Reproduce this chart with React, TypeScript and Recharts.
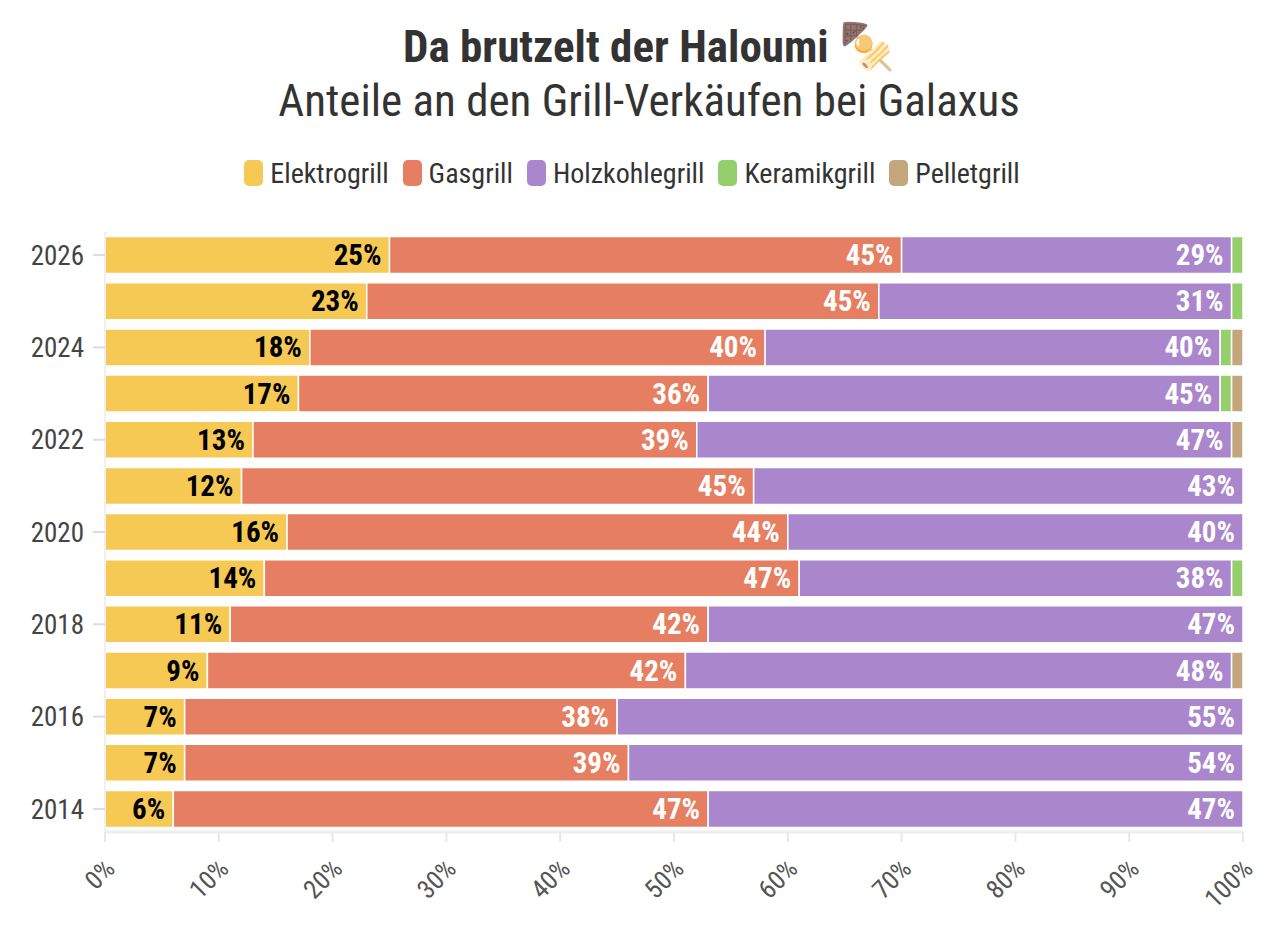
import React from "react";
import { BarChart, Bar, XAxis, YAxis, LabelList } from "recharts";

const years = ["2026", "2025", "2024", "2023", "2022", "2021", "2020", "2019", "2018", "2017", "2016", "2015", "2014"];
const elektro = [25, 23, 18, 17, 13, 12, 16, 14, 11, 9, 7, 7, 6];
const gas = [45, 45, 40, 36, 39, 45, 44, 47, 42, 42, 38, 39, 47];
const holz = [29, 31, 40, 45, 47, 43, 40, 38, 47, 48, 55, 54, 47];
const keramik = [1, 1, 1, 1, 0, 0, 0, 1, 0, 0, 0, 0, 0];
const pellet = [0, 0, 1, 1, 1, 0, 0, 0, 0, 1, 0, 0, 0];
const xTicks = [0, 10, 20, 30, 40, 50, 60, 70, 80, 90, 100];

const series = [
  { key: "Elektrogrill", values: elektro, color: "#f6c954", label: "#000000" },
  { key: "Gasgrill", values: gas, color: "#e67f61", label: "#ffffff" },
  { key: "Holzkohlegrill", values: holz, color: "#aa86cd", label: "#ffffff" },
  { key: "Keramikgrill", values: keramik, color: "#95cf6c", label: "#ffffff" },
  { key: "Pelletgrill", values: pellet, color: "#c3a67c", label: "#ffffff" },
];

const data = years.map((year, i) => {
  const row: Record<string, string | number> = { year };
  series.forEach((s) => (row[s.key] = s.values[i]));
  return row;
});

const FONT = "'Roboto Condensed', 'Liberation Sans Narrow', 'DejaVu Sans Condensed', Roboto, sans-serif";

function makeLabel(color: string) {
  return (props: any) => {
    const { x, y, width, height, value } = props;
    if (!value || value < 5) return null;
    return (
      <text
        x={x + width - 8}
        y={y + height / 2}
        textAnchor="end"
        dominantBaseline="central"
        fill={color}
        fontSize={29}
        fontWeight={700}
        fontFamily={FONT}
      >
        {value}%
      </text>
    );
  };
}

function XTick(props: any) {
  const { x, y, payload } = props;
  const px = x + 5;
  const py = y + 20;
  return (
    <text
      x={px}
      y={py}
      transform={`rotate(-45 ${px} ${py})`}
      textAnchor="end"
      dominantBaseline="central"
      fill="#555"
      fontSize={26}
      fontFamily={FONT}
    >
      {payload.value}%
    </text>
  );
}

export default function App() {
  return (
    <div style={{ position: "relative", width: 1262, height: 916, fontFamily: FONT, background: "#fff" }}>
      <BarChart
        width={1262}
        height={916}
        data={data}
        layout="vertical"
        barCategoryGap="10%"
        margin={{ top: 224, right: 27, bottom: 20, left: 0 }}
        style={{ position: "absolute", top: 0, left: 0 }}
      >
        <XAxis
          type="number"
          domain={[0, 100]}
          ticks={xTicks}
          interval={0}
          height={72}
          axisLine={{ stroke: "#eeeeee", strokeWidth: 3 }}
          tickLine={{ stroke: "#e8e8e8", strokeWidth: 2 }}
          tickSize={10}
          tick={<XTick />}
        />
        <YAxis
          type="category"
          dataKey="year"
          width={97}
          interval={1}
          axisLine={{ stroke: "#f0f0f0", strokeWidth: 2 }}
          tickLine={{ stroke: "#dddddd", strokeWidth: 2 }}
          tickSize={12}
          tickMargin={9}
          tick={{ fill: "#444", fontSize: 27, fontFamily: FONT }}
        />
        {series.map((s) => (
          <Bar
            key={s.key}
            dataKey={s.key}
            stackId="a"
            fill={s.color}
            stroke="#ffffff"
            strokeWidth={1.5}
            isAnimationActive={false}
          >
            <LabelList dataKey={s.key} content={makeLabel(s.label)} />
          </Bar>
        ))}
      </BarChart>
      <div style={{ position: "absolute", top: 13, left: 10, width: 1262, textAlign: "center", color: "#333" }}>
        <div style={{ fontSize: 45, fontWeight: 700, lineHeight: "52px" }}>Da brutzelt der Haloumi 🍢</div>
        <div style={{ fontSize: 45, lineHeight: "52px", marginTop: 2 }}>Anteile an den Grill-Verkäufen bei Galaxus</div>
      </div>
      <div
        style={{
          position: "absolute",
          top: 150,
          left: -7,
          width: 1262,
          height: 30,
          display: "flex",
          justifyContent: "center",
          alignItems: "center",
          gap: 14,
          color: "#333",
          fontSize: 28,
        }}
      >
        {series.map((s) => (
          <div key={s.key} style={{ display: "flex", alignItems: "center", gap: 7 }}>
            <span style={{ width: 19, height: 26, borderRadius: 5, background: s.color, display: "inline-block" }} />
            <span>{s.key}</span>
          </div>
        ))}
      </div>
    </div>
  );
}
